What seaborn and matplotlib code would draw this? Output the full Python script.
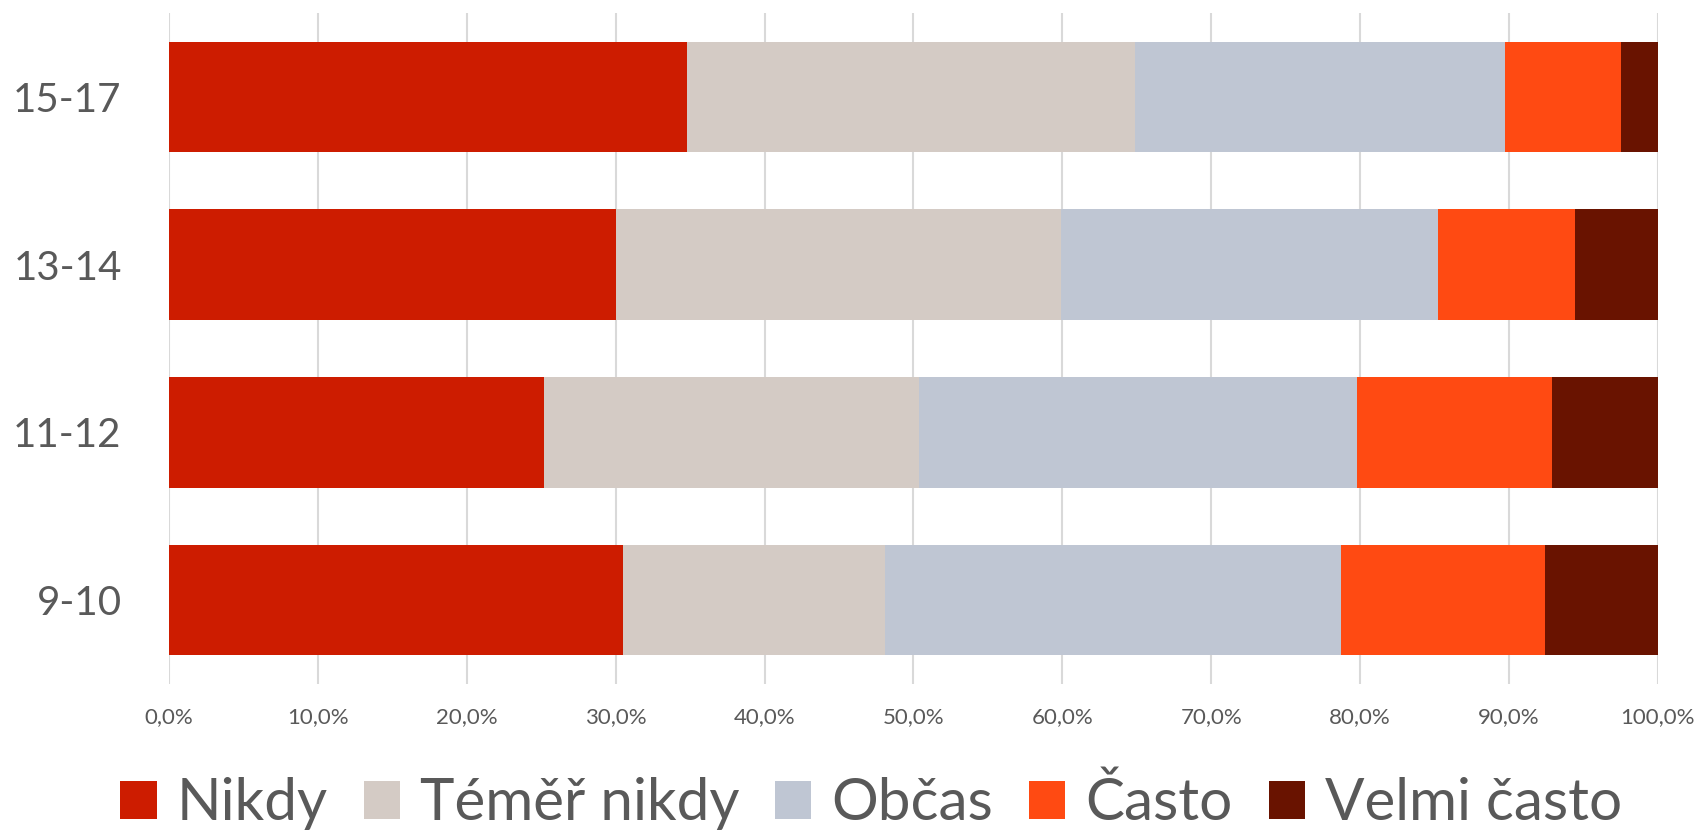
import pandas as pd
import numpy as np
import matplotlib.pyplot as plt
from matplotlib.patches import Patch
import seaborn as sns

# age groups, top to bottom as in the chart
ages = ['15-17', '13-14', '11-12', '9-10']
answers = ['Nikdy', 'Téměř nikdy', 'Občas', 'Často', 'Velmi často']

# shares in % per answer (same order as ages)
nikdy = [34.8, 30.0, 25.2, 30.5]
temer_nikdy = [30.1, 29.9, 25.2, 17.6]
obcas = [24.8, 25.3, 29.4, 30.6]
casto = [7.8, 9.2, 13.1, 13.7]
velmi_casto = [2.5, 5.6, 7.1, 7.6]

colors = ['#CD1C00', '#D4CBC5', '#BFC6D3', '#FF4A12', '#691300']

df = pd.DataFrame({'age': ages, 'Nikdy': nikdy, 'Téměř nikdy': temer_nikdy,
                   'Občas': obcas, 'Často': casto, 'Velmi často': velmi_casto})
cum = df[answers].cumsum(axis=1)
cum['age'] = df['age']

sns.set_style('white')
plt.rcParams['font.family'] = ['Lato', 'DejaVu Sans']

fig = plt.figure(figsize=(16.98, 8.3), dpi=100)
ax = fig.add_axes([0.0995, 0.176, 0.8769, 0.808])

# stacked bars: draw cumulative totals from the outermost segment inwards
for col, c in reversed(list(zip(answers, colors))):
    sns.barplot(data=cum, x=col, y='age', order=ages, color=c, saturation=1,
                width=0.66, linewidth=0, ax=ax, zorder=3)

ax.set_xlim(0, 100)
ax.set_ylim(3.5, -0.5)
ax.set_xticks(np.arange(0, 101, 10))
ax.set_xticklabels(['{:.1f}%'.format(v).replace('.', ',') for v in np.arange(0, 101, 10)])
ax.grid(axis='x', color='#D9D9D9', lw=1.5, zorder=0)
ax.set_axisbelow(True)
for s in ax.spines.values():
    s.set_visible(False)
ax.tick_params(axis='x', length=0, pad=17, labelsize=16, labelcolor='#595959')
ax.tick_params(axis='y', length=0, pad=34, labelsize=29, labelcolor='#595959')
ax.set_xlabel('')
ax.set_ylabel('')

handles = [Patch(facecolor=c, edgecolor='none', label=a) for a, c in zip(answers, colors)]
fig.legend(handles=handles, loc='center', bbox_to_anchor=(0.513, 0.032), ncol=5,
           frameon=False, fontsize=42, labelcolor='#595959', handlelength=0.62,
           handleheight=0.62, handletextpad=0.34, columnspacing=0.62, borderpad=0)

fig.savefig('out.png', dpi=100)
